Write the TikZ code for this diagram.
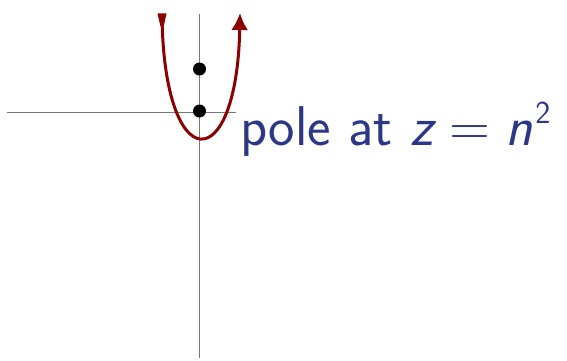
\documentclass[tikz,border=0pt]{standalone}
\usetikzlibrary{arrows.meta}
\definecolor{curvered}{RGB}{140,0,0}
\definecolor{axisgray}{RGB}{120,120,120}
\definecolor{textblue}{RGB}{45,55,135}
\begin{document}
\begin{tikzpicture}[x=1pt,y=-1pt,
  axisline/.style={draw=axisgray,line width=1.6pt},
  contour/.style={draw=curvered,line width=3pt},
  pole/.style={circle,fill=black,inner sep=0pt,minimum size=13pt}]
\useasboundingbox (0,0) rectangle (567,361);
\coordinate (hl) at (7,112.5);
\coordinate (hr) at (236,112.5);
\coordinate (vt) at (199.5,14);
\coordinate (vb) at (199.5,358);
\draw[axisline] (hl) -- (hr);
\draw[axisline] (vt) -- (vb);
\coordinate (cs) at (162,16);
\coordinate (ce) at (240,13);
\draw[contour,-{Latex[length=17pt,width=17pt]}] (cs) .. controls (164,178) and (237,178) .. (ce);
\fill[curvered] (157.5,13.5) -- (166.5,13.5) -- (163.8,26) -- (160.4,26) -- cycle;
\node[pole] (p1) at (199.5,69) {};
\node[pole] (p2) at (199.5,111) {};
\node[anchor=base west,text=textblue,inner sep=0pt,font=\fontsize{56}{60}\selectfont\sffamily] (lbl) at (240,145)
  {pole at \textsl{z}\hspace{0.24em}=\hspace{0.26em}\textsl{n}\hspace{0.05em}\raisebox{0.39em}{\fontsize{32}{34}\selectfont 2}};
\end{tikzpicture}
\end{document}
